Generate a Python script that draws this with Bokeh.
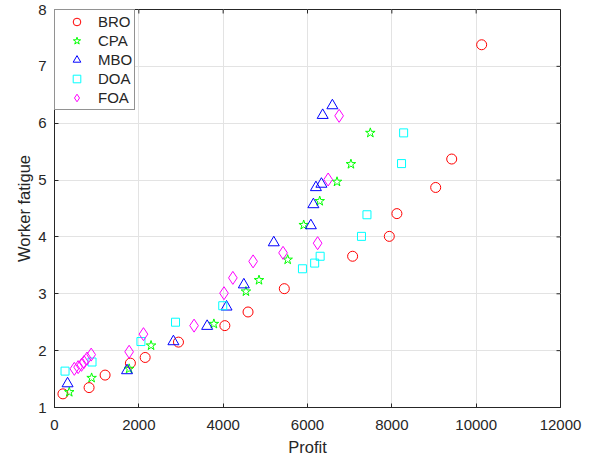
import math
from bokeh.plotting import figure
from bokeh.models import Range1d, FixedTicker, Legend, LegendItem
from bokeh.embed import file_html
from bokeh.resources import INLINE

# ---- data ----
BRO_x = [200, 820, 1200, 1800, 2150, 2940, 4040, 4590, 5450, 7070, 7940, 8120, 9040, 9420, 10130]
BRO_y = [1.24, 1.35, 1.57, 1.78, 1.88, 2.15, 2.44, 2.68, 3.09, 3.66, 4.01, 4.41, 4.87, 5.37, 7.38]

CPA_x = [350, 880, 1770, 2290, 3780, 4540, 4850, 5530, 5910, 6290, 6700, 7030, 7490]
CPA_y = [1.27, 1.52, 1.68, 2.09, 2.47, 3.04, 3.24, 3.60, 4.21, 4.63, 4.97, 5.28, 5.83]

MBO_x = [310, 1720, 2820, 3620, 4080, 4490, 5200, 6080, 6140, 6200, 6330, 6360, 6590]
MBO_y = [1.42, 1.65, 2.16, 2.43, 2.77, 3.16, 3.90, 4.20, 4.57, 4.87, 4.93, 6.14, 6.31]

DOA_x = [250, 890, 2050, 2870, 3990, 5880, 6170, 6300, 7280, 7410, 8230, 8280]
DOA_y = [1.64, 1.80, 2.16, 2.50, 2.79, 3.44, 3.54, 3.66, 4.01, 4.39, 5.29, 5.83]

FOA_x = [470, 560, 640, 700, 770, 870, 1770, 2110, 3310, 4020, 4230, 4710, 5420, 6240, 6490, 6750]
FOA_y = [1.68, 1.71, 1.75, 1.80, 1.86, 1.93, 1.98, 2.29, 2.44, 3.01, 3.28, 3.57, 3.72, 3.89, 5.01, 6.13]

x_ticks = [0, 2000, 4000, 6000, 8000, 10000, 12000]
y_ticks = [1, 2, 3, 4, 5, 6, 7, 8]

FONT = "Liberation Sans"
AX = "#262626"

p = figure(width=598, height=458, output_backend="svg", toolbar_location=None,
           x_range=Range1d(x_ticks[0], x_ticks[-1]), y_range=Range1d(y_ticks[0], y_ticks[-1]),
           min_border_left=54, min_border_right=38, min_border_top=9, min_border_bottom=50)
p.outline_line_color = AX
p.outline_line_width = 1
p.background_fill_color = "white"
p.border_fill_color = "white"

for ax in (p.xaxis[0], p.yaxis[0]):
    ax.major_tick_in = 4
    ax.major_tick_out = 0
    ax.minor_tick_in = 0
    ax.minor_tick_out = 0
    ax.axis_line_color = AX
    ax.major_tick_line_color = AX
    ax.major_label_text_font = FONT
    ax.major_label_text_font_size = "15px"
    ax.major_label_text_color = AX
    ax.axis_label_text_font = FONT
    ax.axis_label_text_font_size = "16.5px"
    ax.axis_label_text_font_style = "normal"
    ax.axis_label_text_color = AX

p.xaxis.ticker = FixedTicker(ticks=x_ticks)
p.yaxis.ticker = FixedTicker(ticks=y_ticks)
p.xaxis.axis_label = "Profit"
p.yaxis.axis_label = "Worker fatigue"
p.xaxis.major_label_standoff = 12
p.xaxis.axis_label_standoff = 5
p.yaxis.major_label_standoff = 8
p.yaxis.axis_label_standoff = 2

p.xgrid.ticker = FixedTicker(ticks=x_ticks)
p.ygrid.ticker = FixedTicker(ticks=y_ticks)
p.grid.grid_line_color = "#e3e3e3"
p.grid.grid_line_width = 1

# inward box ticks on the top and right edges
p.ray(x=x_ticks, y=[y_ticks[-1]] * len(x_ticks), length=4, length_units="screen",
      angle=-math.pi / 2, line_color=AX, line_width=1)
p.ray(x=[x_ticks[-1]] * len(y_ticks), y=y_ticks, length=4, length_units="screen",
      angle=math.pi, line_color=AX, line_width=1)

r1 = p.scatter(BRO_x, BRO_y, marker="circle", size=10, fill_color=None, line_color="#ff0000", line_width=1)
r2 = p.scatter(CPA_x, CPA_y, marker="star", size=10, fill_color=None, line_color="#00ff00", line_width=1)
r3 = p.scatter(MBO_x, MBO_y, marker="triangle", size=11, fill_color=None, line_color="#0000ff", line_width=1)
r4 = p.scatter(DOA_x, DOA_y, marker="square", size=8, fill_color=None, line_color="#00ffff", line_width=1)
r5 = p.scatter(FOA_x, FOA_y, marker="diamond", size=13, fill_color=None, line_color="#ff00ff", line_width=1)

legend = Legend(items=[
    LegendItem(label="BRO", renderers=[r1]),
    LegendItem(label="CPA", renderers=[r2]),
    LegendItem(label="MBO", renderers=[r3]),
    LegendItem(label="DOA", renderers=[r4]),
    LegendItem(label="FOA", renderers=[r5]),
], location="top_left")
legend.margin = 0
legend.padding = 2
legend.spacing = 0
legend.glyph_width = 39
legend.glyph_height = 19
legend.label_height = 19
legend.label_width = 34
legend.label_standoff = 2
legend.label_text_font = FONT
legend.label_text_font_size = "15px"
legend.label_text_color = AX
legend.border_line_color = AX
legend.border_line_width = 1
legend.background_fill_color = "white"
legend.background_fill_alpha = 1
p.add_layout(legend, "center")

open("out.html", "w").write(file_html(p, INLINE))
